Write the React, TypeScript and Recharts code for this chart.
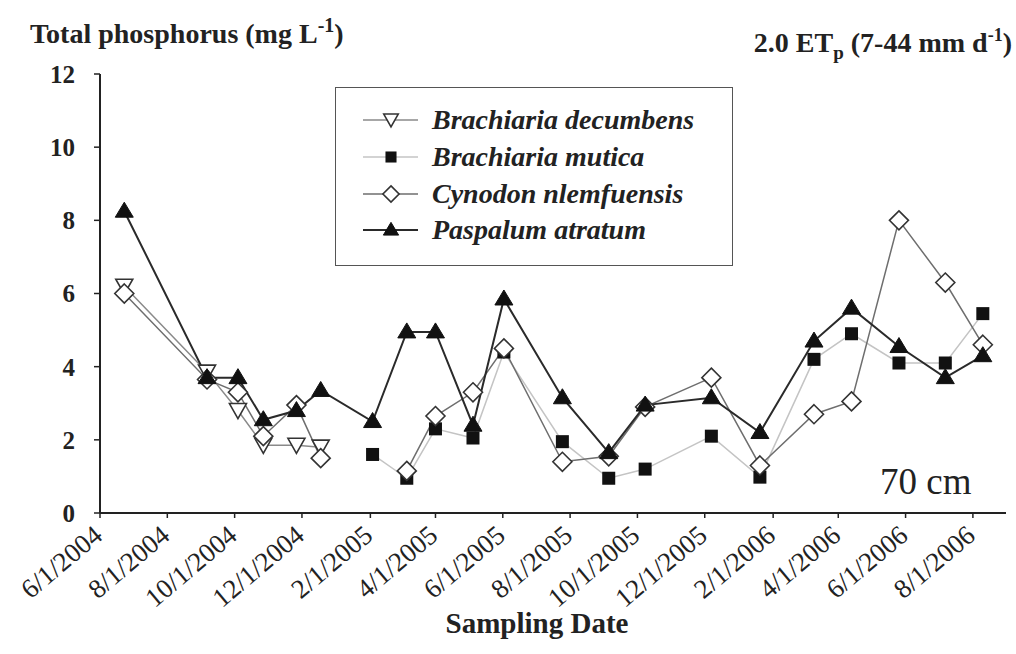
import { LineChart, Line, XAxis, YAxis, Legend } from 'recharts';

// sampling dates (ISO) and total phosphorus per grass species, mg/L
const sampleDates = [
  '2004-06-23', '2004-09-06', '2004-10-04', '2004-10-27', '2004-11-26', '2004-12-18',
  '2005-02-03', '2005-03-06', '2005-04-01', '2005-05-05', '2005-06-02', '2005-07-25',
  '2005-09-05', '2005-10-08', '2005-12-07', '2006-01-20', '2006-03-10', '2006-04-13',
  '2006-05-26', '2006-07-07', '2006-08-10',
];

const decumbens = [6.2, 3.85, 2.8, 1.85, 1.85, 1.8, null, null, null, null, null, null, null, null, null, null, null, null, null, null, null];
const mutica = [null, null, null, null, null, null, 1.6, 0.95, 2.3, 2.05, 4.4, 1.95, 0.95, 1.2, 2.1, 0.98, 4.2, 4.9, 4.1, 4.1, 5.45];
const cynodon = [6.0, 3.65, 3.3, 2.1, 2.95, 1.5, null, 1.15, 2.65, 3.3, 4.5, 1.4, 1.55, 2.9, 3.7, 1.3, 2.7, 3.05, 8.0, 6.3, 4.6];
const paspalum = [8.25, 3.7, 3.7, 2.55, 2.8, 3.35, 2.5, 4.95, 4.95, 2.4, 5.85, 3.15, 1.65, 2.95, 3.15, 2.2, 4.7, 5.6, 4.55, 3.7, 4.3];

const tickLabels = [
  '6/1/2004', '8/1/2004', '10/1/2004', '12/1/2004', '2/1/2005', '4/1/2005', '6/1/2005',
  '8/1/2005', '10/1/2005', '12/1/2005', '2/1/2006', '4/1/2006', '6/1/2006', '8/1/2006',
];
const yTicks = [0, 2, 4, 6, 8, 10, 12];

const SERIF = "Liberation Serif, DejaVu Serif, Times New Roman, serif";
const INK = '#222';

const isoTime = (s: string) => Date.parse(s + 'T00:00:00Z');
const labelTime = (s: string) => {
  const [m, d, y] = s.split('/').map(Number);
  return Date.UTC(y, m - 1, d);
};
const fmtDate = (t: number) => {
  const d = new Date(t);
  return `${d.getUTCMonth() + 1}/${d.getUTCDate()}/${d.getUTCFullYear()}`;
};

const rows = sampleDates.map((s, i) => ({
  t: isoTime(s),
  decumbens: decumbens[i],
  mutica: mutica[i],
  cynodon: cynodon[i],
  paspalum: paspalum[i],
}));

const xTicks = tickLabels.map(labelTime);
const xDomain = [Date.UTC(2004, 5, 1), Date.UTC(2006, 7, 31)];

type Marker = 'down' | 'square' | 'diamond' | 'up';

function MarkerShape({ kind, cx, cy, s = 1 }: { kind: Marker; cx: number; cy: number; s?: number }) {
  if (kind === 'up') {
    return <polygon points={`${cx},${cy - 9 * s} ${cx + 9 * s},${cy + 6 * s} ${cx - 9 * s},${cy + 6 * s}`} fill="#111" stroke="#111" strokeWidth={1} />;
  }
  if (kind === 'down') {
    return <polygon points={`${cx - 8.5 * s},${cy - 7 * s} ${cx + 8.5 * s},${cy - 7 * s} ${cx},${cy + 8 * s}`} fill="#fff" stroke="#333" strokeWidth={1.6} />;
  }
  if (kind === 'square') {
    return <rect x={cx - 6.5 * s} y={cy - 6.5 * s} width={13 * s} height={13 * s} fill="#111" />;
  }
  return <polygon points={`${cx},${cy - 9.5 * s} ${cx + 9.5 * s},${cy} ${cx},${cy + 9.5 * s} ${cx - 9.5 * s},${cy}`} fill="#fff" stroke="#333" strokeWidth={1.6} />;
}

const dotFor = (kind: Marker) => (p: any) => {
  if (p.cx == null || p.cy == null || p.value == null) return <g key={`${kind}-${p.index}`} />;
  return <MarkerShape key={`${kind}-${p.index}`} kind={kind} cx={p.cx} cy={p.cy} />;
};

const series = [
  { key: 'decumbens', name: 'Brachiaria decumbens', marker: 'down' as Marker, stroke: '#8a8a8a', width: 1.5 },
  { key: 'mutica', name: 'Brachiaria mutica', marker: 'square' as Marker, stroke: '#c4c4c4', width: 1.5 },
  { key: 'cynodon', name: 'Cynodon nlemfuensis', marker: 'diamond' as Marker, stroke: '#6e6e6e', width: 1.5 },
  { key: 'paspalum', name: 'Paspalum atratum', marker: 'up' as Marker, stroke: '#2a2a2a', width: 2 },
];

function DateTick({ x, y, payload }: any) {
  const ax = x + 4;
  const ay = y + 18;
  return (
    <text x={ax} y={ay} transform={`rotate(-40, ${ax}, ${ay})`} textAnchor="end"
      style={{ fontFamily: SERIF }} fontSize={27} fill={INK}>
      {fmtDate(payload.value)}
    </text>
  );
}

function SpeciesLegend() {
  return (
    <div style={{
      width: 398, height: 179, border: '1.5px solid #555', background: '#fff',
      boxSizing: 'border-box', paddingTop: 14,
    }}>
      {series.map((s) => (
        <div key={s.key} style={{ display: 'flex', alignItems: 'center', height: 36.7 }}>
          <svg width={96} height={30} style={{ flex: 'none' }}>
            <line x1={27} x2={82} y1={15} y2={15} stroke={s.stroke} strokeWidth={s.width} />
            <MarkerShape kind={s.marker} cx={55} cy={15} s={0.85} />
          </svg>
          <span style={{
            fontFamily: SERIF, fontStyle: 'italic', fontWeight: 'bold', fontSize: 28,
            color: INK, lineHeight: 1,
          }}>{s.name}</span>
        </div>
      ))}
    </div>
  );
}

export default function App() {
  return (
    <div style={{ position: 'absolute', left: 0, top: 0, width: 1016, height: 654, background: '#fff', fontFamily: SERIF }}>
      <LineChart width={1016} height={654} data={rows}
        margin={{ top: 74, right: 10, bottom: 61, left: 40 }}>
        <XAxis dataKey="t" type="number" scale="time" domain={xDomain} ticks={xTicks}
          allowDataOverflow interval={0} height={80}
          axisLine={{ stroke: INK, strokeWidth: 2 }} tickLine={{ stroke: INK, strokeWidth: 1.5 }}
          tickSize={5} tick={<DateTick />} />
        <YAxis type="number" domain={[0, 12]} ticks={yTicks} width={60} interval={0}
          axisLine={{ stroke: INK, strokeWidth: 2 }} tickLine={{ stroke: INK, strokeWidth: 1.5 }}
          tickSize={6} tickMargin={19}
          tick={{ style: { fontFamily: SERIF }, fontWeight: 'bold', fontSize: 25, fill: INK }} />
        <Legend layout="vertical" align="center" verticalAlign="middle"
          wrapperStyle={{ left: 335, top: 87, width: 400, height: 181 }}
          content={() => <SpeciesLegend />} />
        {series.map((s) => (
          <Line key={s.key} dataKey={s.key} name={s.name} type="linear"
            stroke={s.stroke} strokeWidth={s.width} dot={dotFor(s.marker)}
            activeDot={false} isAnimationActive={false} />
        ))}
      </LineChart>

      <svg width={1016} height={654} style={{ position: 'absolute', left: 0, top: 0, pointerEvents: 'none', fontFamily: SERIF }}
        fill={INK}>
        <text x={30} y={43} fontSize={28} fontWeight="bold">
          Total phosphorus (mg L<tspan dy={-11} fontSize={20}>-1</tspan><tspan dy={11}>)</tspan>
        </text>
        <text x={1012} y={52} fontSize={28} fontWeight="bold" textAnchor="end">
          2.0 ET<tspan dy={7} fontSize={19}>p</tspan><tspan dy={-7}> (7-44 mm d</tspan>
          <tspan dy={-11} fontSize={18}>-1</tspan><tspan dy={11}>)</tspan>
        </text>
        <text x={537} y={633} fontSize={29} fontWeight="bold" textAnchor="middle">Sampling Date</text>
        <text x={880} y={494} fontSize={37}>70 cm</text>
      </svg>
    </div>
  );
}
